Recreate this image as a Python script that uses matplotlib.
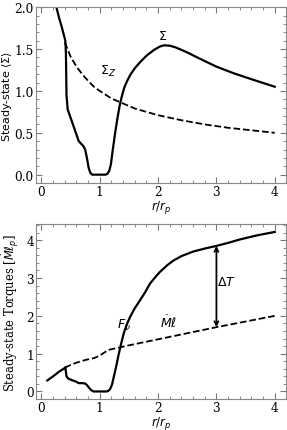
import matplotlib
matplotlib.use("Agg")
import matplotlib.pyplot as plt
import numpy as np

# Sigma (solid)
sig_r = [0.10, 0.18, 0.25, 0.30, 0.35, 0.38, 0.41, 0.42, 0.43, 0.45, 0.50, 0.55, 0.60, 0.64, 0.68,
         0.72, 0.75, 0.78, 0.81, 0.84, 0.87, 0.90, 1.00, 1.10, 1.13, 1.16, 1.19, 1.22, 1.26, 1.30,
         1.34, 1.38, 1.42, 1.47, 1.53, 1.60, 1.70, 1.80, 1.93, 2.03, 2.10, 2.20, 2.30, 2.40, 2.50,
         2.70, 3.00, 3.30, 3.60, 4.00]
sig_v = [2.60, 2.30, 2.02, 1.88, 1.76, 1.68, 1.60, 1.45, 0.95, 0.78, 0.68, 0.58, 0.48, 0.40, 0.37,
         0.34, 0.30, 0.20, 0.08, 0.02, 0.00, 0.00, 0.00, 0.00, 0.01, 0.04, 0.12, 0.28, 0.48, 0.66,
         0.82, 0.94, 1.04, 1.12, 1.20, 1.27, 1.35, 1.42, 1.49, 1.53, 1.545, 1.54, 1.52, 1.49, 1.46,
         1.39, 1.29, 1.21, 1.14, 1.05]

# Sigma_Z (dashed)
sz_r = [0.40, 0.50, 0.60, 0.70, 0.80, 0.90, 1.00, 1.20, 1.40, 1.60, 1.80, 2.00, 2.40, 2.80, 3.20, 3.60, 4.00]
sz_v = [1.58, 1.41, 1.29, 1.20, 1.12, 1.05, 1.00, 0.91, 0.85, 0.79, 0.75, 0.71, 0.65, 0.60, 0.56, 0.53, 0.50]

# viscous torque F_nu (solid)
fn_r = [0.10, 0.20, 0.30, 0.40, 0.41, 0.43, 0.46, 0.52, 0.58, 0.64, 0.70, 0.75, 0.78, 0.81, 0.85,
        0.89, 1.00, 1.12, 1.15, 1.18, 1.21, 1.24, 1.28, 1.32, 1.36, 1.41, 1.47, 1.52, 1.60, 1.69,
        1.78, 1.86, 1.95, 2.03, 2.15, 2.26, 2.40, 2.60, 2.80, 3.00, 3.20, 3.40, 3.70, 4.00]
fn_v = [0.29, 0.40, 0.52, 0.62, 0.64, 0.40, 0.34, 0.30, 0.27, 0.22, 0.22, 0.21, 0.17, 0.11, 0.04,
        0.00, 0.00, 0.00, 0.02, 0.07, 0.18, 0.38, 0.65, 0.95, 1.22, 1.53, 1.80, 1.97, 2.20, 2.41,
        2.63, 2.85, 3.02, 3.16, 3.33, 3.46, 3.58, 3.70, 3.78, 3.85, 3.93, 4.02, 4.13, 4.22]

# advected angular momentum Mdot*l (dashed)
ml_r = [0.40, 0.50, 0.60, 0.70, 0.80, 0.90, 1.00, 1.10, 1.15, 1.50, 2.00, 2.50, 3.00, 3.50, 4.00]
ml_v = [0.63, 0.70, 0.76, 0.81, 0.85, 0.88, 0.95, 1.05, 1.10, 1.22, 1.38, 1.54, 1.70, 1.85, 2.00]

delta_T_r = 3.0
delta_T_lo = 1.70
delta_T_hi = 3.85

fig = plt.figure(figsize=(2.87, 4.31), dpi=100)
ax1 = fig.add_axes([0.125, 0.573, 0.872, 0.408])
ax2 = fig.add_axes([0.125, 0.071, 0.872, 0.407])

for ax in (ax1, ax2):
    ax.minorticks_on()
    ax.tick_params(which="both", direction="in", top=True, right=True, colors="#777777",
                   labelcolor="black", labelsize=8.7, pad=1.5)
    ax.tick_params(which="major", length=4, width=0.8)
    ax.tick_params(which="minor", length=2, width=0.6)
    for s in ax.spines.values():
        s.set_color("#888888")
        s.set_linewidth(0.8)

ax1.plot(sig_r, sig_v, color="black", lw=1.6)
ax1.plot(sz_r, sz_v, color="black", lw=1.3, ls="--")
ax1.set_xlim(-0.095, 4.195)
ax1.set_ylim(-0.1, 2.0)
ax1.set_xticks([0, 1, 2, 3, 4])
ax1.set_yticks([0.0, 0.5, 1.0, 1.5, 2.0])
ax1.set_xticklabels(["0", "1", "2", "3", "4"], family="DejaVu Serif")
ax1.set_yticklabels(["0.0", "0.5", "1.0", "1.5", "2.0"], family="DejaVu Serif")
ax1.text(2.08, 1.66, r"$\Sigma$", fontsize=9, ha="center", va="center")
ax1.text(1.15, 1.25, r"$\Sigma_Z$", fontsize=9, ha="center", va="center")
ax1.set_xlabel(r"$r/r_p$", fontsize=8.5, labelpad=0)
ax1.set_ylabel(r"Steady-state $\langle\Sigma\rangle$", fontsize=8.0)
ax1.yaxis.set_label_coords(-0.088, 0.5)

ax2.plot(fn_r, fn_v, color="black", lw=1.6)
ax2.plot(ml_r, ml_v, color="black", lw=1.3, ls="--")
ax2.annotate("", xy=(delta_T_r, delta_T_lo), xytext=(delta_T_r, delta_T_hi),
             arrowprops=dict(arrowstyle="<->", color="black", lw=1.3,
                             shrinkA=0, shrinkB=0, mutation_scale=7))
ax2.set_xlim(-0.095, 4.195)
ax2.set_ylim(-0.21, 4.43)
ax2.set_xticks([0, 1, 2, 3, 4])
ax2.set_yticks([0, 1, 2, 3, 4])
ax2.set_xticklabels(["0", "1", "2", "3", "4"], family="DejaVu Serif")
ax2.set_yticklabels(["0", "1", "2", "3", "4"], family="DejaVu Serif")
ax2.text(3.17, 2.9, r"$\Delta T$", fontsize=9, ha="center", va="center")
ax2.text(1.42, 1.77, r"$F_\nu$", fontsize=9, ha="center", va="center")
ax2.text(2.18, 1.85, r"$\dot{M}\ell$", fontsize=9, ha="center", va="center")
ax2.set_xlabel(r"$r/r_p$", fontsize=8.5, labelpad=0)
ax2.set_ylabel(r"Steady-state Torques [$\dot{M}\ell_p$]", fontsize=8.3,
               family="DejaVu Serif")
ax2.yaxis.set_label_coords(-0.06, 0.5)

fig.savefig("out.png", dpi=100)
